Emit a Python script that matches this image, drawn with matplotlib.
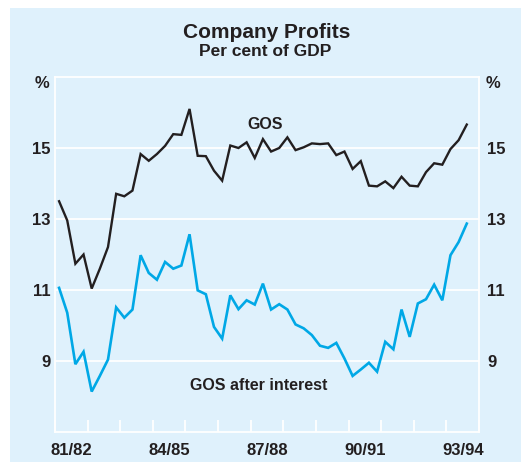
import matplotlib

matplotlib.use("Agg")
import matplotlib.pyplot as plt
import numpy as np
from matplotlib.patches import Rectangle
from matplotlib.ticker import FixedLocator, NullFormatter

plt.rcParams["font.family"] = ["Liberation Sans", "DejaVu Sans"]
plt.rcParams["font.weight"] = "bold"

# 四半期データ (1981/82 Sep 四半期 〜 1993/94 Mar 四半期)
first_year = 1981.5  # 1981/82 年度の開始
gos = [
    13.50, 12.96, 11.74, 12.00, 11.04, 11.60, 12.21, 13.71, 13.64, 13.80,
    14.83, 14.64, 14.83, 15.06, 15.39, 15.37, 16.10, 14.78, 14.77, 14.36,
    14.08, 15.07, 15.00, 15.16, 14.72, 15.25, 14.90, 15.00, 15.30, 14.94,
    15.02, 15.13, 15.11, 15.13, 14.80, 14.90, 14.41, 14.63, 13.94, 13.92,
    14.06, 13.87, 14.19, 13.94, 13.92, 14.32, 14.57, 14.53, 14.97, 15.22,
    15.66,
]
gos_after_interest = [
    11.06, 10.36, 8.91, 9.26, 8.14, 8.58, 9.04, 10.51, 10.22, 10.45,
    11.98, 11.48, 11.29, 11.79, 11.60, 11.69, 12.57, 10.99, 10.88, 9.96,
    9.63, 10.85, 10.46, 10.71, 10.59, 11.18, 10.45, 10.60, 10.45, 10.03,
    9.92, 9.73, 9.43, 9.37, 9.51, 9.07, 8.58, 8.76, 8.95, 8.70,
    9.54, 9.33, 10.45, 9.68, 10.62, 10.74, 11.15, 10.71, 11.98, 12.35,
    12.87,
]
year_labels = ["81/82", "84/85", "87/88", "90/91", "93/94"]
y_ticks = [9, 11, 13, 15]

BG = "#dff1fc"
BLUE = "#00a8e6"
BLACK = "#231f20"

fig = plt.figure(figsize=(5.21, 4.62), dpi=100)
fig.patch.set_facecolor("white")
fig.add_artist(
    Rectangle((10 / 521, 0), 1 - 10 / 521, 1 - 8 / 462,
              transform=fig.transFigure, facecolor=BG, edgecolor="none", zorder=-10)
)

ax = fig.add_axes([55 / 521, 1 - 432 / 462, (479 - 55) / 521, (432 - 77) / 462])
ax.set_facecolor(BG)

x = first_year + (np.arange(len(gos)) + 0.5) / 4
ax.plot(x, gos, color=BLACK, lw=1.7, solid_joinstyle="miter", zorder=3)
ax.plot(x, gos_after_interest, color=BLUE, lw=1.9, solid_joinstyle="miter", zorder=3)

ax.set_xlim(first_year, first_year + 13)
ax.set_ylim(7, 17)

# グリッドと枠
for v in y_ticks:
    ax.axhline(v, color="white", lw=1.3, zorder=1)
for s in ax.spines.values():
    s.set_color("white")
    s.set_linewidth(1.3)

# x 軸: 年度境界に目盛り, 年度中央にラベル
ax.xaxis.set_major_locator(FixedLocator(first_year + np.arange(14)))
ax.xaxis.set_major_formatter(NullFormatter())
ax.xaxis.set_minor_locator(FixedLocator([1982, 1985, 1988, 1991, 1994]))
ax.set_xticklabels(year_labels, minor=True)
ax.tick_params(axis="x", which="major", direction="in", length=8.5, width=1.3, color="white")
ax.tick_params(axis="x", which="minor", length=0, pad=8, labelsize=12, labelcolor=BLACK)

# y 軸 (左右)
ax.set_yticks(y_ticks)
ax.tick_params(axis="y", length=0, pad=3, labelsize=12, labelcolor=BLACK)
ax2 = ax.twinx()
ax2.set_ylim(7, 17)
ax2.set_yticks(y_ticks)
ax2.tick_params(axis="y", length=0, pad=6, labelsize=12, labelcolor=BLACK)
for s in ax2.spines.values():
    s.set_visible(False)

fig.text(42 / 521, 1 - 83 / 462, "%", ha="center", va="center", fontsize=12, color=BLACK)
fig.text(493 / 521, 1 - 83 / 462, "%", ha="center", va="center", fontsize=12, color=BLACK)

fig.text(267 / 521, 1 - 33 / 462, "Company Profits", ha="center", va="center",
         fontsize=15, color=BLACK)
fig.text(265 / 521, 1 - 51 / 462, "Per cent of GDP", ha="center", va="center",
         fontsize=12.5, color=BLACK)

ax.text(1987.95, 15.65, "GOS", ha="center", va="center", fontsize=11.5, color=BLACK)
ax.text(1987.75, 8.3, "GOS after interest", ha="center", va="center", fontsize=11.5,
        color=BLACK)

fig.savefig("out.png", dpi=100)
